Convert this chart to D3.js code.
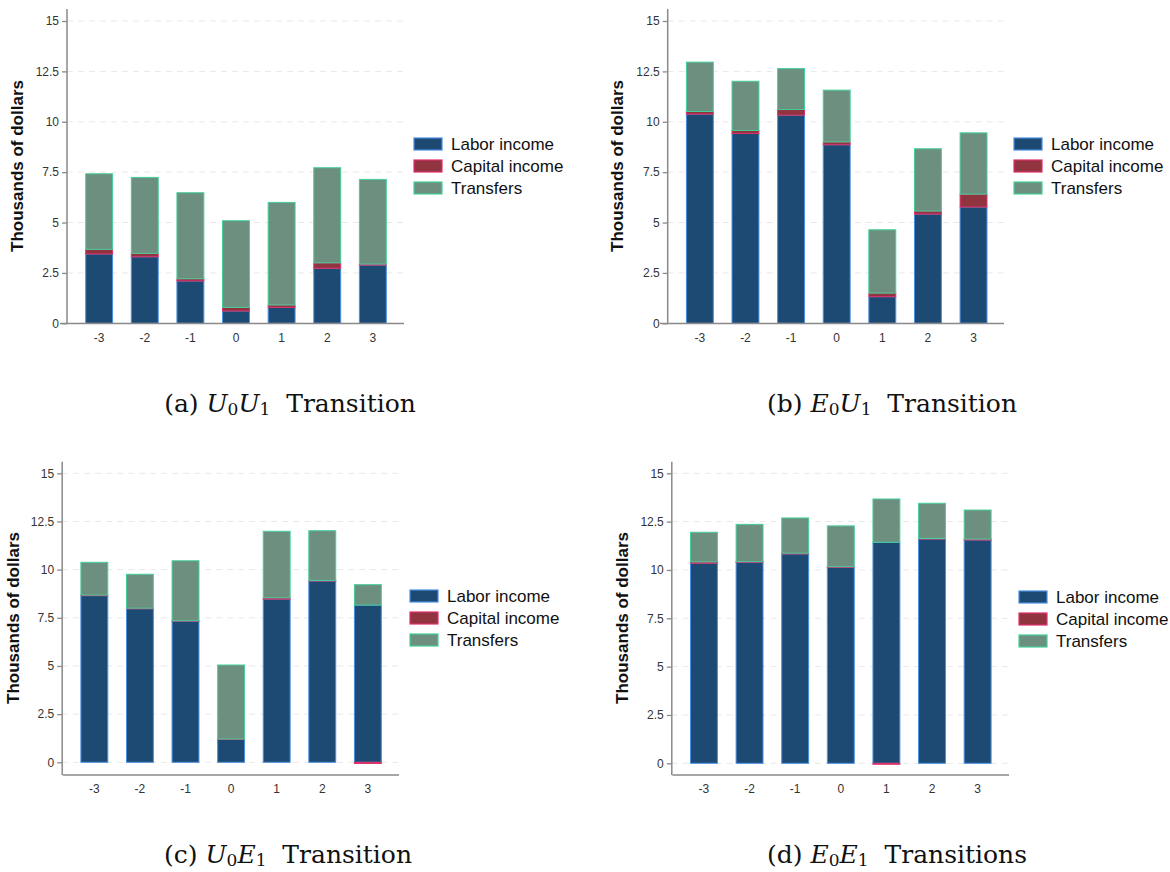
<!DOCTYPE html>
<html>
<head>
<meta charset="utf-8">
<script src="https://cdn.jsdelivr.net/npm/d3@7"></script>
<style>
  body { margin: 0; background: #fff; }
  svg { display: block; }
</style>
</head>
<body>
<svg id="chart" width="1170" height="872"></svg>
<script>
// event time categories and y ticks
const years = ["-3", "-2", "-1", "0", "1", "2", "3"];
const yTicks = [0, 2.5, 5, 7.5, 10, 12.5, 15];
const seriesNames = ["Labor income", "Capital income", "Transfers"];

// (a) U0U1
const laborA = [3.44, 3.30, 2.10, 0.61, 0.79, 2.73, 2.89];
const capitalA = [0.23, 0.17, 0.11, 0.18, 0.12, 0.27, 0.05];
const transfersA = [3.75, 3.77, 4.27, 4.30, 5.09, 4.72, 4.20];

// (b) E0U1
const laborB = [10.38, 9.42, 10.33, 8.86, 1.32, 5.42, 5.77];
const capitalB = [0.13, 0.15, 0.28, 0.14, 0.18, 0.15, 0.64];
const transfersB = [2.45, 2.44, 2.03, 2.57, 3.14, 3.09, 3.04];

// (c) U0E1
const laborC = [8.65, 7.97, 7.33, 1.19, 8.47, 9.41, 8.16];
const capitalC = [0.03, 0.03, 0.02, 0.02, 0.07, 0.03, -0.06];
const transfersC = [1.70, 1.76, 3.11, 3.84, 3.45, 2.58, 1.06];

// (d) E0E1
const laborD = [10.35, 10.40, 10.83, 10.14, 11.43, 11.60, 11.55];
const capitalD = [0.07, 0.03, 0.04, 0.03, -0.05, 0.03, 0.05];
const transfersD = [1.53, 1.93, 1.82, 2.11, 2.24, 1.82, 1.50];

const fills = ["#1c4a72", "#903540", "#6d8f80"];
const strokes = ["#4a90e2", "#e0306a", "#45d09a"];

// panel geometry (pixel positions measured from the layout)
const panels = [
  { labor: laborA, capital: capitalA, transfers: transfersA,
    x0: 67, x1: 405, y0: 323.3, y15: 21, axisY: 323.5, axisTop: 9, axisRight: 404, axisLeft: 60,
    ylabX: 17, ylabY: 166, legX: 414, legY: 144, capX: 290, capY: 412,
    cap: ["(a) ", "U", "0", "U", "1", "  Transition"] },
  { labor: laborB, capital: capitalB, transfers: transfersB,
    x0: 667.7, x1: 1005.7, y0: 323.3, y15: 21, axisY: 323.5, axisTop: 9, axisRight: 1004, axisLeft: 660,
    ylabX: 617, ylabY: 166, legX: 1014, legY: 144, capX: 892, capY: 412,
    cap: ["(b) ", "E", "0", "U", "1", "  Transition"] },
  { labor: laborC, capital: capitalC, transfers: transfersC,
    x0: 62.2, x1: 400, y0: 762.3, y15: 473.3, axisY: 775, axisTop: 461.7, axisRight: 399, axisLeft: 62.7,
    ylabX: 13, ylabY: 618, legX: 410, legY: 596, capX: 288, capY: 863,
    cap: ["(c) ", "U", "0", "E", "1", "  Transition"] },
  { labor: laborD, capital: capitalD, transfers: transfersD,
    x0: 671.8, x1: 1009.8, y0: 763.3, y15: 473.3, axisY: 775, axisTop: 461.7, axisRight: 1009, axisLeft: 672.3,
    ylabX: 622, ylabY: 618, legX: 1019, legY: 597, capX: 897, capY: 863,
    cap: ["(d) ", "E", "0", "E", "1", "  Transitions"] }
];

const svg = d3.select("#chart");

panels.forEach((p) => {
  const g = svg.append("g");

  const rows = years.map((yr, i) => ({
    year: yr,
    "Labor income": p.labor[i],
    "Capital income": p.capital[i],
    "Transfers": p.transfers[i]
  }));

  const x = d3.scaleBand().domain(years).range([p.x0, p.x1]).padding(0.41);
  const y = d3.scaleLinear().domain([0, 15]).range([p.y0, p.y15]);

  // dashed grid lines
  g.selectAll(".grid")
    .data(yTicks)
    .enter()
    .append("line")
    .attr("x1", p.x0)
    .attr("x2", p.axisRight)
    .attr("y1", (d) => y(d))
    .attr("y2", (d) => y(d))
    .attr("stroke", "#e9e9e9")
    .attr("stroke-width", 1)
    .attr("stroke-dasharray", "6,5");

  // stacked bars, negative values go below zero
  const stack = d3.stack().keys(seriesNames).offset(d3.stackOffsetDiverging);
  const layers = stack(rows);

  layers.forEach((layer, k) => {
    g.selectAll(".bar" + k)
      .data(layer)
      .enter()
      .append("rect")
      .attr("x", (d) => x(d.data.year))
      .attr("width", x.bandwidth())
      .attr("y", (d) => y(Math.max(d[0], d[1])))
      .attr("height", (d) => Math.abs(y(d[0]) - y(d[1])))
      .attr("fill", fills[k])
      .attr("stroke", strokes[k])
      .attr("stroke-width", 1);
  });

  // y axis
  const yAxis = d3.axisLeft(y).tickValues(yTicks).tickSize(5).tickPadding(3)
    .tickFormat((d) => d3.format("")(d));
  const ya = g.append("g").attr("transform", "translate(" + p.x0 + ",0)").call(yAxis);
  ya.select(".domain").remove();
  ya.selectAll(".tick line").attr("stroke", "#8a8a8a").attr("stroke-width", 1.3);
  ya.selectAll(".tick text")
    .attr("font-family", "Liberation Sans, Arial, sans-serif")
    .attr("font-size", 12)
    .attr("fill", "#333");

  g.append("line")
    .attr("x1", p.x0).attr("x2", p.x0)
    .attr("y1", p.axisTop).attr("y2", p.axisY)
    .attr("stroke", "#8a8a8a").attr("stroke-width", 1.5);

  // x axis
  g.append("line")
    .attr("x1", p.axisLeft).attr("x2", p.axisRight)
    .attr("y1", p.axisY).attr("y2", p.axisY)
    .attr("stroke", "#8a8a8a").attr("stroke-width", 1.5);

  g.selectAll(".xlab")
    .data(years)
    .enter()
    .append("text")
    .attr("x", (d) => x(d) + x.bandwidth() / 2)
    .attr("y", p.axisY + 18)
    .attr("text-anchor", "middle")
    .attr("font-family", "Liberation Sans, Arial, sans-serif")
    .attr("font-size", 12)
    .attr("fill", "#333")
    .text((d) => d);

  // y label
  g.append("text")
    .attr("transform", "translate(" + (p.ylabX + 6) + "," + p.ylabY + ") rotate(-90)")
    .attr("text-anchor", "middle")
    .attr("font-family", "Liberation Sans, Arial, sans-serif")
    .attr("font-weight", "bold")
    .attr("font-size", 17)
    .attr("fill", "#111")
    .text("Thousands of dollars");

  // legend
  const leg = g.selectAll(".leg")
    .data(seriesNames)
    .enter()
    .append("g")
    .attr("transform", (d, i) => "translate(" + p.legX + "," + (p.legY + i * 22) + ")");
  leg.append("rect")
    .attr("x", 0).attr("y", -6)
    .attr("width", 28).attr("height", 12)
    .attr("fill", (d, i) => fills[i])
    .attr("stroke", (d, i) => strokes[i])
    .attr("stroke-width", 1.2);
  leg.append("text")
    .attr("x", 37).attr("y", 6)
    .attr("font-family", "Liberation Sans, Arial, sans-serif")
    .attr("font-size", 17)
    .attr("fill", "#111")
    .text((d) => d);

  // caption
  const cap = g.append("text")
    .attr("x", p.capX).attr("y", p.capY)
    .attr("text-anchor", "middle")
    .attr("font-family", "DejaVu Serif, serif")
    .attr("font-size", 25)
    .attr("fill", "#111")
    .attr("xml:space", "preserve")
    .style("white-space", "pre");
  cap.append("tspan").text(p.cap[0]);
  cap.append("tspan").attr("font-style", "italic").text(p.cap[1]);
  cap.append("tspan").attr("font-size", 17).attr("dy", 3).text(p.cap[2]);
  cap.append("tspan").attr("font-style", "italic").attr("dy", -3).text(p.cap[3]);
  cap.append("tspan").attr("font-size", 17).attr("dy", 3).text(p.cap[4]);
  cap.append("tspan").attr("dy", -3).text(p.cap[5]);
});
</script>
</body>
</html>
